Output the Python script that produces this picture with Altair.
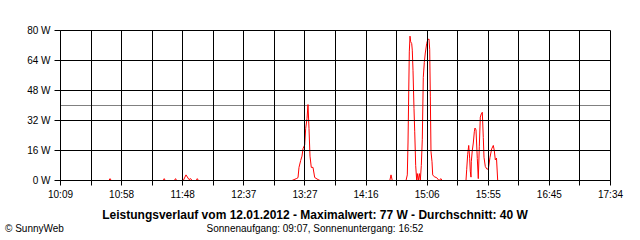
import altair as alt
import pandas as pd

# ---- data ----
times = [
    "10:09:00",
    "10:48:30", "10:49:30", "10:50:30",
    "11:32:30", "11:33:20", "11:34:10",
    "11:41:30", "11:42:30", "11:43:20",
    "11:48:46", "11:50:56", "11:53:22", "11:54:45", "11:55:48",
    "11:59:10", "12:00:05", "12:01:00",
    "13:16:43", "13:20:11", "13:21:34", "13:22:22", "13:23:45", "13:24:48", "13:25:37",
    "13:26:59", "13:27:47", "13:28:51", "13:29:39", "13:30:28", "13:31:16", "13:32:19",
    "13:33:42", "13:35:04", "13:37:44", "13:39:22",
    "14:35:50", "14:36:50", "14:37:50",
    "14:48:57", "14:50:00", "14:50:34", "14:51:37", "14:52:11", "14:52:45", "14:53:34",
    "14:54:02", "14:54:37", "14:55:25", "14:56:00", "14:56:47", "14:57:36", "14:58:05",
    "14:58:54", "14:59:43", "15:00:31", "15:01:20", "15:02:08", "15:02:56", "15:03:45",
    "15:04:34", "15:05:41", "15:06:30", "15:07:33", "15:08:07", "15:08:37", "15:09:10",
    "15:09:59", "15:10:33", "15:11:50", "15:13:47", "15:15:39", "15:17:16", "15:18:04",
    "15:37:29", "15:38:04", "15:38:52", "15:39:41", "15:40:29", "15:40:58", "15:41:32",
    "15:41:47", "15:42:35", "15:43:24", "15:44:13", "15:44:46", "15:45:35", "15:46:38",
    "15:47:26", "15:48:15", "15:49:04", "15:49:52", "15:50:41", "15:51:29", "15:52:03",
    "15:53:06", "15:54:14", "15:55:32", "15:56:55", "15:58:17", "15:59:35", "16:00:23",
    "16:01:12", "16:02:10", "16:03:08",
    "16:52:00",
]
watts = [
    0,
    0, 1, 0,
    0, 1, 0,
    0, 1, 0,
    0, 3, 0.5, 1, 0,
    0, 1, 0,
    0, 1, 1.5, 7, 10.7, 13, 17,
    19, 27.7, 33, 40.5, 27.7, 13, 7,
    7, 1.6, 0.5, 0,
    0, 3, 0,
    0, 3, 20, 68.6, 77, 74, 73,
    69.5, 58.8, 38.4, 26, 8, 0, 3.7,
    0, 3.7, 0, 8, 22, 55, 63,
    68, 73, 75, 75.5, 70, 45, 15.5,
    10, 3, 2, 1.5, 0, 1, 0,
    0, 6, 14, 18.7, 11.6, 5, 1.8,
    10, 16, 20, 26, 28, 27, 11.7,
    1, 18, 33.8, 35.5, 36.4, 23, 12.4,
    7.5, 6.2, 6, 12.4, 16.9, 18.7, 16,
    11, 12, 0,
    0,
]

x_tick_labels = ["10:09", "10:58", "11:48", "12:37", "13:27",
                 "14:16", "15:06", "15:55", "16:45", "17:34"]
y_ticks = [0, 16, 32, 48, 64, 80]
average_w = 40
title_text = "Leistungsverlauf vom 12.01.2012 - Maximalwert: 77 W - Durchschnitt: 40 W"
subtitle_text = "Sonnenaufgang: 09:07, Sonnenuntergang: 16:52"
credit_text = "\u00a9 SunnyWeb"

START = 10 * 60 + 9
END = 17 * 60 + 34
SPAN = END - START
N_INT = 18
STEP = SPAN / N_INT


def to_min(t):
    h, m, s = [int(p) for p in t.split(":")]
    return h * 60 + m + s / 60 - START


df = pd.DataFrame({"min": [to_min(t) for t in times], "w": watts})

full_labels = []
for i, lab in enumerate(x_tick_labels):
    full_labels.append(lab)
    if i < len(x_tick_labels) - 1:
        full_labels.append("")
label_arr = "[" + ",".join("'%s'" % l for l in full_labels) + "]"
x_values = [i * STEP for i in range(N_INT + 1)]

FONT = "Liberation Sans"

x_scale = alt.Scale(domain=[0, SPAN], nice=False, zero=False)
y_scale = alt.Scale(domain=[0, 80], nice=False)

x_axis = alt.Axis(values=x_values, labelExpr=label_arr + "[round(datum.value / %f)]" % STEP,
                  grid=True, gridColor="black", gridOpacity=1, gridWidth=1,
                  domainColor="black", tickColor="black", tickSize=5,
                  labelFont=FONT, labelFontSize=10, labelColor="black",
                  labelPadding=4, labelOverlap=False, labelFlush=False,
                  title=None, zindex=1)
y_axis = alt.Axis(values=y_ticks, labelExpr="datum.value + ' W'",
                  grid=True, gridColor="black", gridOpacity=1, gridWidth=1,
                  domainColor="black", tickColor="black", tickSize=6,
                  labelFont=FONT, labelFontSize=10, labelColor="black",
                  labelPadding=4, labelOverlap=False, labelFlush=False,
                  title=None, zindex=1)

base = alt.Chart(df)

line = base.mark_line(color="#FF0000", strokeWidth=1, yOffset=0.5, clip=True).encode(
    x=alt.X("min:Q", scale=x_scale, axis=x_axis),
    y=alt.Y("w:Q", scale=y_scale, axis=y_axis),
)

avg = alt.Chart(pd.DataFrame({"w": [average_w]})).mark_rule(
    color="#808080", strokeWidth=1, yOffset=0.5
).encode(y=alt.Y("w:Q", scale=y_scale, axis=y_axis))

title = alt.Chart(pd.DataFrame({"t": [title_text]})).mark_text(
    font=FONT, fontSize=12, fontWeight="bold", color="black",
    align="center", baseline="middle"
).encode(text="t:N", x=alt.value(255), y=alt.value(185))

subtitle = alt.Chart(pd.DataFrame({"t": [subtitle_text]})).mark_text(
    font=FONT, fontSize=10, color="black", align="center", baseline="middle"
).encode(text="t:N", x=alt.value(255), y=alt.value(199))

credit = alt.Chart(pd.DataFrame({"t": [credit_text]})).mark_text(
    font=FONT, fontSize=10, color="black", align="left", baseline="middle"
).encode(text="t:N", x=alt.value(-55), y=alt.value(199))

chart = alt.layer(avg, line, title, subtitle, credit).properties(
    width=550, height=150,
    autosize=alt.AutoSizeParams(type="none"),
    padding={"left": 60, "top": 30, "right": 30, "bottom": 60},
    background="white",
).configure_view(stroke=None)

chart.save("out.html", embed_options={"renderer": "svg", "actions": False})
